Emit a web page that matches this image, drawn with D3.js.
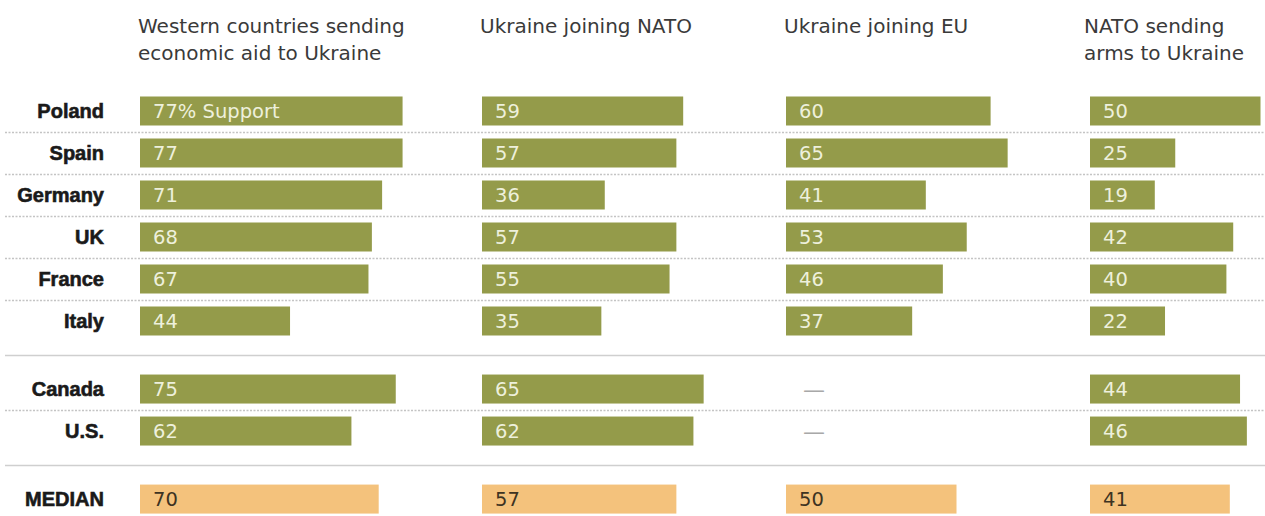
<!DOCTYPE html>
<html>
<head>
<meta charset="utf-8">
<script src="https://cdn.jsdelivr.net/npm/d3@7"></script>
<style>
  body { margin: 0; background: #fff; }
  svg { display: block; }
</style>
</head>
<body>
<svg id="chart" width="1265" height="516"></svg>
<script>
// rows, grouped: Europe, North America, median
var groups = [
  ["Poland", "Spain", "Germany", "UK", "France", "Italy"],
  ["Canada", "U.S."],
  ["MEDIAN"]
];
var headers = [
  ["Western countries sending", "economic aid to Ukraine"],
  ["Ukraine joining NATO"],
  ["Ukraine joining EU"],
  ["NATO sending", "arms to Ukraine"]
];
// values in row order (Poland..Italy, Canada, U.S., MEDIAN); null = not asked
var econAid = [77, 77, 71, 68, 67, 44, 75, 62, 70];
var joinNato = [59, 57, 36, 57, 55, 35, 65, 62, 57];
var joinEu = [60, 65, 41, 53, 46, 37, null, null, 50];
var armsNato = [50, 25, 19, 42, 40, 22, 44, 46, 41];
var series = [econAid, joinNato, joinEu, armsNato];

var svg = d3.select("#chart");
var width = 1265;
var panelX = [140, 482, 786, 1090];
var barH = 29;
var groupGap = 0.62;

// flatten rows with a slot index that adds a gap between groups
var rows = [];
groups.forEach(function(g, gi) {
  g.forEach(function(name) {
    rows.push({ name: name, group: gi, slot: rows.length + gi * groupGap });
  });
});

var y = d3.scaleLinear().domain([0, 1]).range([111, 153]);
var x = d3.scaleLinear().domain([0, 100]).range([0, 341]);

// separators
var seps = [];
rows.forEach(function(r, i) {
  var next = rows[i + 1];
  if (!next) return;
  seps.push({ pos: (r.slot + next.slot) / 2, solid: next.group !== r.group });
});

svg.selectAll(".sep")
    .data(seps)
  .enter().append("line")
    .attr("class", "sep")
    .attr("x1", 5)
    .attr("x2", width)
    .attr("y1", function(d) { return Math.round(y(d.pos)) + 0.5; })
    .attr("y2", function(d) { return Math.round(y(d.pos)) + 0.5; })
    .attr("stroke", function(d) { return d.solid ? "#cfcfcf" : "#c4c4c4"; })
    .attr("stroke-width", 1.5)
    .attr("stroke-dasharray", function(d) { return d.solid ? null : "2,1.5"; });

// row labels
svg.selectAll(".rowlab")
    .data(rows)
  .enter().append("text")
    .attr("class", "rowlab")
    .attr("x", 104)
    .attr("y", function(d) { return y(d.slot); })
    .attr("dy", "0.36em")
    .attr("text-anchor", "end")
    .style("font-family", "'Liberation Sans', Arial, sans-serif")
    .style("font-weight", "bold")
    .style("font-size", "20px")
    .style("fill", "#1a1a1a")
    .style("stroke", "#1a1a1a")
    .style("stroke-width", "0.6px")
    .text(function(d) { return d.name; });

// panels
series.forEach(function(vals, p) {
  var g = svg.append("g").attr("transform", "translate(" + panelX[p] + ",0)");

  g.append("text")
      .attr("y", 33)
      .style("font-family", "'DejaVu Sans', sans-serif")
      .style("font-size", "20px")
      .style("fill", "#3a3a3a")
    .selectAll("tspan")
      .data(headers[p])
    .enter().append("tspan")
      .attr("x", p === 3 ? -6 : -2)
      .attr("dy", function(d, i) { return i ? 27 : 0; })
      .text(function(d) { return d; });

  var cells = rows.map(function(r, i) { return { row: r, v: vals[i], first: i === 0 && p === 0 }; });

  g.selectAll(".bar")
      .data(cells.filter(function(d) { return d.v != null; }))
    .enter().append("rect")
      .attr("class", "bar")
      .attr("x", 0)
      .attr("y", function(d) { return y(d.row.slot) - barH / 2; })
      .attr("width", function(d) { return x(d.v); })
      .attr("height", barH)
      .attr("fill", function(d) { return d.row.group === 2 ? "#f4c27c" : "#949b4a"; });

  g.selectAll(".val")
      .data(cells)
    .enter().append("text")
      .attr("class", "val")
      .attr("x", function(d) { return d.v == null ? 17 : 13; })
      .attr("y", function(d) { return y(d.row.slot); })
      .attr("dy", "0.36em")
      .style("font-family", "'DejaVu Sans', sans-serif")
      .style("font-size", function(d) { return d.v == null ? "22px" : "19.5px"; })
      .style("fill", function(d) {
        if (d.v == null) return "#a8a8a8";
        return d.row.group === 2 ? "#3d3322" : "#eef0dc";
      })
      .text(function(d) {
        if (d.v == null) return "\u2014";
        return d.first ? d.v + "% Support" : d.v;
      });
});
</script>
</body>
</html>
